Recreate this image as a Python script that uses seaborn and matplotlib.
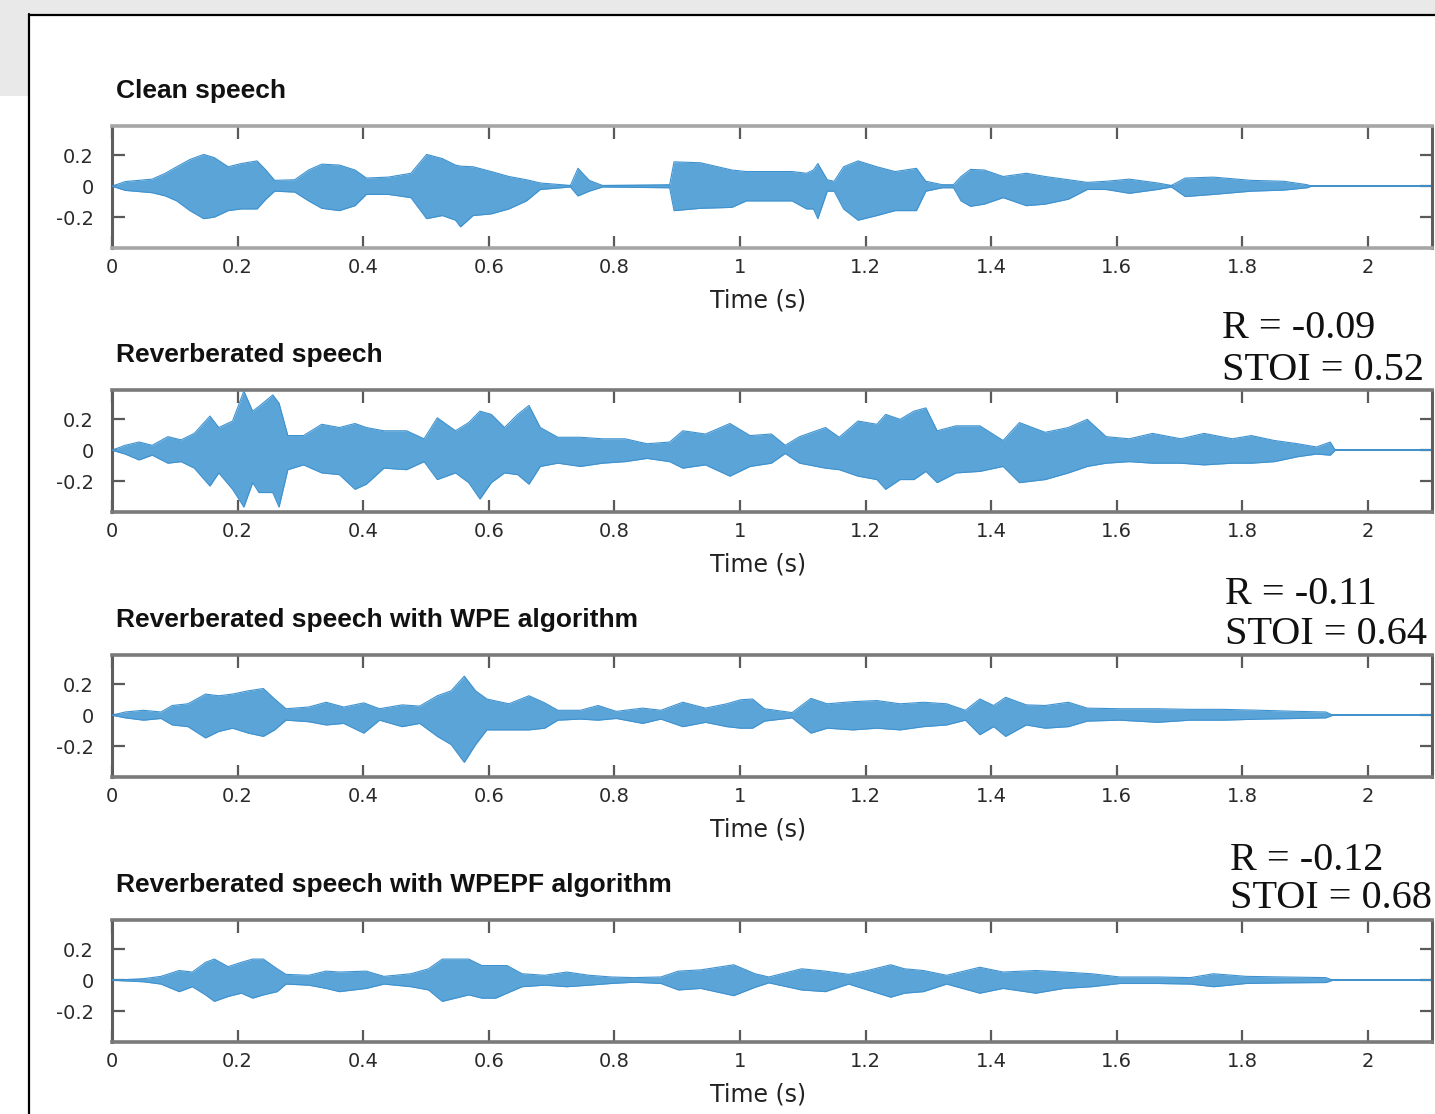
import numpy as np
import matplotlib
matplotlib.use("Agg")
import matplotlib.pyplot as plt
from matplotlib.lines import Line2D
from matplotlib.patches import Rectangle
import seaborn as sns

# Envelope of each waveform (upper / lower amplitude)
t_clean = [0, .021, .064, .085, .103, .124, .146, .163, .185, .206, .231, .245, .259, .291, .313,
           .334, .362, .387, .405, .44, .476, .501, .526, .547, .555, .575, .604, .632, .66, .682,
           .73, .742, .76, .781, .888, .895, .937, .987, 1.01, 1.083, 1.106, 1.117, 1.124, 1.139, 1.15,
           1.165, 1.188, 1.218, 1.247, 1.281, 1.296, 1.322, 1.34, 1.352, 1.367, 1.389, 1.419, 1.456,
           1.486, 1.523, 1.553, 1.583, 1.62, 1.665, 1.687, 1.709, 1.754, 1.814, 1.866, 1.903, 1.91]
up_clean = [0, .03, .046, .084, .126, .173, .206, .185, .126, .147, .164, .105, .038, .042, .105,
            .143, .137, .105, .053, .059, .084, .206, .179, .137, .13, .126, .095, .063, .042, .021,
            .005, .116, .038, .005, .01, .158, .152, .105, .095, .095, .084, .105, .147, .042, .032,
            .126, .164, .126, .095, .116, .032, .01, .01, .063, .109, .105, .063, .084,
            .063, .042, .025, .032, .046, .021, .005, .053, .059, .038, .032, .01, 0]
lo_clean = [0, -.027, -.042, -.063, -.095, -.158, -.21, -.2, -.158, -.147, -.147, -.084, -.032, -.038, -.095,
            -.143, -.158, -.126, -.053, -.053, -.074, -.21, -.19, -.22, -.263, -.19, -.179, -.147, -.095, -.021,
            -.005, -.063, -.032, -.005, -.01, -.158, -.143, -.137, -.095, -.095, -.147, -.147, -.21, -.032, -.032,
            -.147, -.22, -.19, -.158, -.158, -.032, -.01, -.01, -.095, -.13, -.116, -.074, -.126,
            -.116, -.084, -.021, -.021, -.046, -.021, -.005, -.067, -.053, -.032, -.025, -.01, 0]

t_rev = [0, .021, .043, .064, .089, .11, .131, .156, .17, .192, .21, .224, .234, .256, .266,
         .28, .305, .334, .362, .387, .405, .433, .469, .497, .518, .547, .568, .586, .604, .625,
         .646, .664, .682, .71, .746, .781, .817, .852, .888, .909, .945, .984, 1.016, 1.05, 1.072,
         1.095, 1.136, 1.158, 1.188, 1.218, 1.232, 1.255, 1.277, 1.296, 1.314, 1.344, 1.382, 1.419,
         1.445, 1.486, 1.523, 1.553, 1.583, 1.62, 1.657, 1.702, 1.739, 1.784, 1.814, 1.851, 1.888,
         1.918, 1.94, 1.948]
up_rev = [0, .032, .053, .032, .088, .067, .109, .221, .147, .189, .383, .253, .284, .358, .305,
          .095, .095, .168, .147, .173, .147, .126, .126, .074, .21, .126, .179, .253, .232, .147,
          .232, .29, .147, .084, .084, .074, .074, .042, .053, .126, .105, .173, .095, .105, .032,
          .088, .147, .084, .189, .168, .232, .2, .253, .274, .126, .158, .158, .063,
          .179, .116, .147, .2, .088, .074, .109, .074, .109, .074, .095, .063, .042,
          .021, .053, 0]
lo_rev = [0, -.025, -.063, -.032, -.084, -.074, -.116, -.232, -.147, -.253, -.368, -.21, -.274, -.274, -.368,
          -.126, -.095, -.147, -.158, -.253, -.22, -.116, -.126, -.074, -.19, -.147, -.21, -.316, -.21, -.147,
          -.158, -.22, -.105, -.084, -.105, -.084, -.074, -.053, -.074, -.116, -.095, -.168, -.105, -.084, -.021,
          -.084, -.116, -.126, -.168, -.19, -.253, -.19, -.19, -.137, -.21, -.147, -.137, -.105,
          -.21, -.19, -.147, -.105, -.084, -.074, -.084, -.084, -.095, -.084, -.084, -.074, -.042,
          -.025, -.032, 0]

t_wpe = [0, .021, .05, .078, .096, .121, .149, .17, .192, .217, .241, .259, .277, .313, .341,
         .369, .401, .426, .462, .49, .518, .54, .561, .579, .597, .632, .664, .689, .71, .746,
         .774, .803, .845, .874, .909, .945, .979, 1.001, 1.02, 1.039, 1.083, 1.113, 1.139, 1.18, 1.218,
         1.255, 1.292, 1.329, 1.359, 1.382, 1.404, 1.423, 1.456, 1.486, 1.523, 1.553, 1.605, 1.665,
         1.717, 1.769, 1.829, 1.888, 1.933, 1.944]
up_wpe = [0, .021, .032, .021, .063, .074, .137, .126, .137, .158, .173, .105, .042, .053, .084,
          .053, .08, .042, .067, .059, .126, .158, .253, .158, .105, .074, .126, .08, .032, .032,
          .063, .025, .046, .032, .084, .046, .074, .1, .105, .042, .017, .109, .074, .088, .095,
          .074, .084, .074, .032, .105, .063, .116, .067, .063, .084, .046, .042, .042,
          .038, .038, .032, .025, .021, 0]
lo_wpe = [0, -.017, -.032, -.021, -.063, -.074, -.147, -.105, -.084, -.116, -.137, -.095, -.032, -.042, -.063,
          -.053, -.116, -.032, -.074, -.053, -.137, -.19, -.305, -.19, -.095, -.095, -.095, -.084, -.032, -.025,
          -.032, -.021, -.053, -.025, -.074, -.046, -.074, -.084, -.084, -.038, -.017, -.116, -.084, -.095, -.084,
          -.095, -.074, -.063, -.032, -.126, -.074, -.137, -.063, -.084, -.074, -.038, -.032, -.046,
          -.032, -.032, -.025, -.021, -.017, 0]

t_wpepf = [0, .05, .078, .107, .128, .149, .163, .185, .206, .224, .241, .263, .277, .313, .341,
           .362, .405, .433, .476, .504, .526, .547, .568, .589, .611, .629, .653, .689, .724, .76,
           .795, .831, .874, .902, .9375, .99, 1.024, 1.046, 1.098, 1.136, 1.173, 1.203, 1.24, 1.262, 1.292,
           1.329, 1.382, 1.419, 1.471, 1.516, 1.56, 1.605, 1.665, 1.717, 1.754, 1.806, 1.866, 1.933, 1.944]
up_wpepf = [0, .01, .025, .063, .053, .116, .137, .088, .116, .137, .137, .074, .038, .032, .059,
            .053, .059, .025, .042, .074, .137, .137, .137, .095, .095, .095, .042, .032, .053, .032,
            .021, .017, .021, .059, .067, .1, .042, .021, .074, .059, .038, .063, .1, .074, .063,
            .032, .084, .053, .063, .053, .042, .021, .021, .017, .042, .025, .021, .017, 0]
lo_wpepf = [0, -.01, -.025, -.074, -.042, -.095, -.137, -.105, -.084, -.116, -.095, -.074, -.025, -.032, -.053,
            -.074, -.053, -.025, -.042, -.063, -.137, -.116, -.095, -.116, -.116, -.084, -.042, -.032, -.042, -.032,
            -.021, -.013, -.021, -.063, -.053, -.1, -.046, -.017, -.063, -.074, -.025, -.063, -.11, -.084, -.074,
            -.025, -.084, -.053, -.084, -.053, -.042, -.021, -.021, -.025, -.042, -.021, -.017, -.015, 0]

titles = ["Clean speech", "Reverberated speech", "Reverberated speech with WPE algorithm",
          "Reverberated speech with WPEPF algorithm"]
scores = [None, ("-0.09", "0.52"), ("-0.11", "0.64"), ("-0.12", "0.68")]
xticks = [0, 0.2, 0.4, 0.6, 0.8, 1, 1.2, 1.4, 1.6, 1.8, 2]
xticklabels = ["0", "0.2", "0.4", "0.6", "0.8", "1", "1.2", "1.4", "1.6", "1.8", "2"]
yticks = [-0.2, 0, 0.2]
yticklabels = ["-0.2", "0", "0.2"]

signals = [(t_clean, up_clean, lo_clean), (t_rev, up_rev, lo_rev),
           (t_wpe, up_wpe, lo_wpe), (t_wpepf, up_wpepf, lo_wpepf)]

sns.set_theme(style="white")
plt.rcParams["font.family"] = ["DejaVu Sans"]

W, H = 1435, 1114
fig = plt.figure(figsize=(W / 100, H / 100), dpi=100)
fig.patch.set_facecolor("white")

# screenshot frame: grey strip and block, black border of the window
fig.patches.append(Rectangle((0, 1 - 14 / H), 1, 14 / H, transform=fig.transFigure,
                             facecolor="#e9e9e9", edgecolor="none", zorder=0))
fig.patches.append(Rectangle((0, 1 - 96 / H), 28 / W, 96 / H, transform=fig.transFigure,
                             facecolor="#e9e9e9", edgecolor="none", zorder=0))
fig.lines.append(Line2D([29 / W, 29 / W], [0, 1 - 14 / H], transform=fig.transFigure,
                        color="black", lw=1.6))
fig.lines.append(Line2D([29 / W, 1], [1 - 14.5 / H, 1 - 14.5 / H], transform=fig.transFigure,
                        color="black", lw=1.6))

tops = [126, 390, 655, 920]
ax_h = 122
wave = "#5aa4d8"
edge = "#3f92cf"

for i, (t, up, lo) in enumerate(signals):
    top = tops[i]
    ax = fig.add_axes([112 / W, 1 - (top + ax_h) / H, 1320 / W, ax_h / H])
    ax.fill_between(t, lo, up, color=wave, lw=0, zorder=2)
    sns.lineplot(x=t, y=up, ax=ax, color=edge, lw=0.8, zorder=3)
    sns.lineplot(x=t, y=lo, ax=ax, color=edge, lw=0.8, zorder=3)
    ax.axhline(0, color="#3d8fcc", lw=1.4, zorder=1)
    ax.set_xlim(0, 2.102)
    ax.set_ylim(-0.4, 0.39)
    ax.set_xticks(xticks)
    ax.set_xticklabels(xticklabels)
    ax.set_yticks(yticks)
    ax.set_yticklabels(yticklabels)
    ax.tick_params(direction="in", length=9, width=1.6, color="#5a5a5a",
                   top=True, right=True, bottom=True, left=True,
                   labelsize=14, labelcolor="#2a2a2a")
    ax.tick_params(axis="x", pad=7)
    ax.tick_params(axis="y", pad=13)
    top_col = "#a6a6a6" if i == 0 else "#7a7a7a"
    for side in ["top", "bottom"]:
        ax.spines[side].set_color(top_col)
        ax.spines[side].set_linewidth(2.6)
    for side in ["left", "right"]:
        ax.spines[side].set_color("#5e5e5e")
        ax.spines[side].set_linewidth(2.2)
    ax.set_title(titles[i], loc="left", fontsize=19, fontweight="bold",
                 family=["Liberation Sans", "DejaVu Sans"], color="#111111", pad=20, x=0.003)
    ax.set_xlabel("Time (s)", fontsize=17, color="#222222")
    ax.xaxis.set_label_coords((758 - 112) / 1320, -0.33)
    ax.set_ylabel("")
    ax.grid(False)

    if scores[i] is not None:
        r, s = scores[i]
        x0 = [0, 1222, 1225, 1230][i] / W
        y1 = [0, 329, 594, 861][i]
        y2 = [0, 370, 634, 899][i]
        fig.text(x0, 1 - y1 / H, f"R = {r}", fontsize=29, va="center", ha="left",
                 family=["Liberation Serif", "DejaVu Serif"], color="#111111")
        fig.text(x0, 1 - y2 / H, f"STOI = {s}", fontsize=29, va="center", ha="left",
                 family=["Liberation Serif", "DejaVu Serif"], color="#111111")

fig.savefig("out.png", dpi=100)
